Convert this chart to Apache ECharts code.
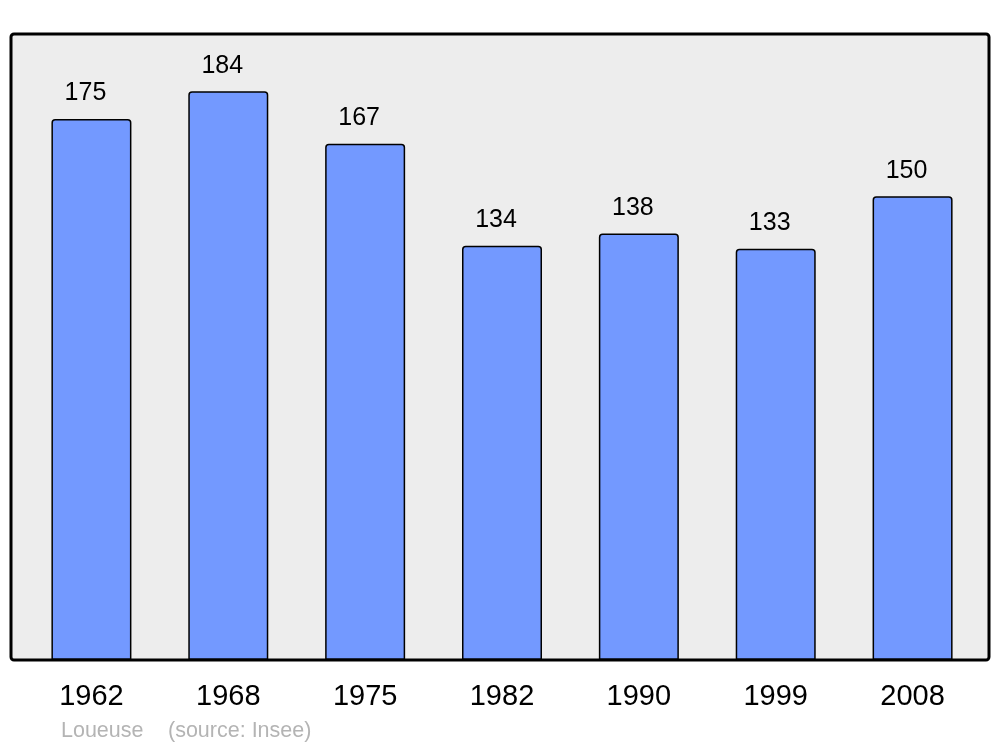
<!DOCTYPE html>
<html>
<head>
<meta charset="utf-8">
<script src="https://cdn.jsdelivr.net/npm/echarts@6/dist/echarts.min.js"></script>
<style>html,body{margin:0;padding:0;background:#fff}#c{width:1000px;height:747px}</style>
</head>
<body>
<div id="c"></div>
<script>
const years = ['1962', '1968', '1975', '1982', '1990', '1999', '2008'];
const population = [175, 184, 167, 134, 138, 133, 150];
const footerName = 'Loueuse';
const footerSource = '(source: Insee)';

const chart = echarts.init(document.getElementById('c'), null, {renderer: 'canvas'});
chart.setOption({
  animation: false,
  backgroundColor: '#ffffff',
  grid: {left: 23, right: 19, top: 34, bottom: 87, containLabel: false},
  xAxis: {
    type: 'category',
    data: years,
    axisLine: {show: false},
    axisTick: {show: false},
    axisLabel: {color: '#000', fontSize: 29, fontFamily: 'Liberation Sans, Arial, sans-serif', margin: 22}
  },
  yAxis: {
    type: 'value', min: 0, max: 202.5,
    show: false, splitLine: {show: false}
  },
  graphic: [
    {type: 'rect', z: -10, shape: {x: 11, y: 34, width: 978, height: 626, r: 3},
     style: {fill: '#ededed', stroke: null}},
    {type: 'rect', z: 100, shape: {x: 11, y: 34, width: 978, height: 626, r: 3},
     style: {fill: null, stroke: '#000', lineWidth: 3}},
    {type: 'text', left: 61, top: 720, style: {text: footerName, fill: '#b4b4b4', fontSize: 21.5, fontFamily: 'Liberation Sans, Arial, sans-serif'}},
    {type: 'text', left: 168, top: 720, style: {text: footerSource, fill: '#b4b4b4', fontSize: 21.5, fontFamily: 'Liberation Sans, Arial, sans-serif'}}
  ],
  series: [{
    type: 'bar',
    data: population,
    barWidth: 80,
    itemStyle: {color: '#7399ff', borderColor: '#000', borderWidth: 1.5, borderRadius: [3, 3, 0, 0]},
    label: {show: true, position: 'top', distance: 13, offset: [-6, 0], color: '#000', fontSize: 25, fontFamily: 'Liberation Sans, Arial, sans-serif'}
  }]
});
</script>
</body>
</html>
